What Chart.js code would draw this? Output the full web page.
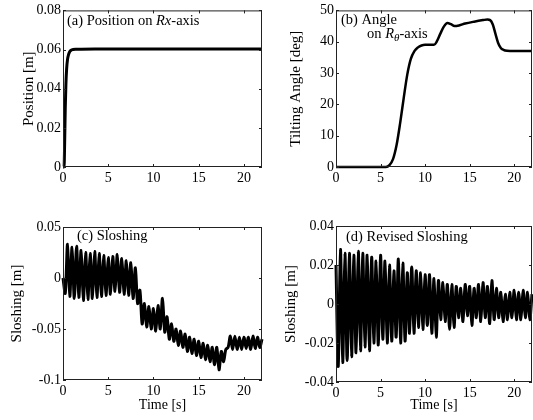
<!DOCTYPE html>
<html>
<head>
<meta charset="utf-8">
<script src="https://cdn.jsdelivr.net/npm/chart.js@4"></script>
<style>
  body { margin: 0; background: #fff; }
  .panel { position: absolute; }
</style>
</head>
<body>
<div class="panel" style="left:0;top:0"><canvas id="chartA" width="266" height="205"></canvas></div>
<div class="panel" style="left:266px;top:0"><canvas id="chartB" width="267" height="205"></canvas></div>
<div class="panel" style="left:0;top:205px"><canvas id="chartC" width="266" height="215"></canvas></div>
<div class="panel" style="left:266px;top:205px"><canvas id="chartD" width="267" height="215"></canvas></div>
<script>
// x ticks shared by all four panels
const timeTicks = [0, 5, 10, 15, 20];

// (a) position on Rx-axis
const timeA = [0, 0.12, 0.18, 0.25, 0.32, 0.4, 0.5, 0.62, 0.75, 0.9, 1.1, 1.4, 2, 5, 10, 15, 22];
const posA = [0, 0, 0.012, 0.03, 0.042, 0.05, 0.055, 0.0575, 0.059, 0.0597, 0.06, 0.0602, 0.0602, 0.0603, 0.0603, 0.0603, 0.0603];
const posTicks = [0, 0.02, 0.04, 0.06, 0.08];
const posLabels = ['0', '0.02', '0.04', '0.06', '0.08'];

// (b) tilting angle on R-theta axis
const timeB = [0, 5.6, 6.0, 6.4, 6.8, 7.2, 7.6, 8.0, 8.4, 8.8, 9.2, 9.6, 10.0, 10.5, 11.0, 11.3, 11.7, 12.1, 12.5, 12.9, 13.3, 13.8, 14.5, 15.5, 16.5, 17.0, 17.3, 17.6, 17.9, 18.2, 18.5, 18.8, 19.2, 20, 22];
const angleB = [0, 0, 0.6, 2.5, 7, 14, 22, 29.5, 34.5, 37, 38.2, 38.8, 39, 39, 39, 40, 42.5, 44.8, 46, 45.6, 45, 45.2, 45.8, 46.4, 46.9, 47.1, 46.9, 45.5, 42.5, 39.6, 38, 37.4, 37.1, 37, 37];
const angleTicks = [0, 10, 20, 30, 40, 50];
const angleLabels = ['0', '10', '20', '30', '40', '50'];

// (c) sloshing and (d) revised sloshing, peaks and troughs every 0.25 s
const timeS = [0, 0.25, 0.5, 0.75, 1, 1.25, 1.5, 1.75, 2, 2.25, 2.5, 2.75, 3, 3.25, 3.5, 3.75,
  4, 4.25, 4.5, 4.75, 5, 5.25, 5.5, 5.75, 6, 6.25, 6.5, 6.75, 7, 7.25, 7.5, 7.75,
  8, 8.25, 8.5, 8.75, 9, 9.25, 9.5, 9.75, 10, 10.25, 10.5, 10.75, 11, 11.25, 11.5, 11.75,
  12, 12.25, 12.5, 12.75, 13, 13.25, 13.5, 13.75, 14, 14.25, 14.5, 14.75, 15, 15.25, 15.5, 15.75,
  16, 16.25, 16.5, 16.75, 17, 17.25, 17.5, 17.75, 18, 18.25, 18.5, 18.75, 19, 19.25, 19.5, 19.75,
  20, 20.25, 20.5, 20.75, 21, 21.25, 21.5, 21.75, 22];
const sloshC = [0, -0.015, 0.033, -0.018, 0.030, -0.020, 0.031, -0.019, 0.027, -0.022, 0.025, -0.021, 0.024, -0.020, 0.026, -0.019,
  0.024, -0.018, 0.022, -0.017, 0.020, -0.016, 0.021, -0.013, 0.023, -0.014, 0.019, -0.016, 0.017, -0.017, 0.015, -0.020,
  0.010, -0.025, -0.012, -0.045, -0.025, -0.048, -0.028, -0.050, -0.030, -0.052, -0.027, -0.050, -0.020, -0.053, -0.038, -0.060,
  -0.045, -0.062, -0.050, -0.066, -0.052, -0.068, -0.055, -0.072, -0.058, -0.074, -0.060, -0.076, -0.062, -0.078, -0.064, -0.080,
  -0.066, -0.082, -0.068, -0.085, -0.068, -0.090, -0.072, -0.082, -0.070, -0.068, -0.057, -0.070, -0.057, -0.070, -0.058, -0.070,
  -0.058, -0.069, -0.058, -0.070, -0.057, -0.069, -0.058, -0.068, -0.060];
const sloshD = [0.020, -0.032, 0.028, -0.030, 0.026, -0.029, 0.026, -0.027, 0.025, -0.025, 0.027, -0.024, 0.026, -0.022, 0.025, -0.024,
  0.024, -0.020, 0.022, -0.021, 0.025, -0.018, 0.022, -0.020, 0.020, -0.019, 0.017, -0.017, 0.023, -0.020, 0.021, -0.019,
  0.016, -0.015, 0.019, -0.015, 0.017, -0.012, 0.016, -0.013, 0.015, -0.011, 0.015, -0.015, 0.013, -0.017, 0.012, -0.008,
  0.011, -0.009, 0.010, -0.013, 0.010, -0.012, 0.009, -0.007, 0.008, -0.009, 0.010, -0.006, 0.009, -0.011, 0.008, -0.007,
  0.010, -0.009, 0.011, -0.007, 0.009, -0.010, 0.012, -0.008, 0.008, -0.007, 0.006, -0.009, 0.005, -0.008, 0.006, -0.007,
  0.007, -0.008, 0.006, -0.008, 0.007, -0.007, 0.006, -0.008, 0.005];
const sloshCTicks = [-0.1, -0.05, 0, 0.05];
const sloshCLabels = ['-0.1', '-0.05', '0', '0.05'];
const sloshDTicks = [-0.04, -0.02, 0, 0.02, 0.04];
const sloshDLabels = ['-0.04', '-0.02', '0', '0.02', '0.04'];

const FONT = "'Liberation Serif', 'DejaVu Serif', serif";
Chart.defaults.font.family = FONT;
Chart.defaults.font.size = 14;
Chart.defaults.color = '#000';

function toXY(xs, ys) {
  return xs.map((x, i) => ({ x: x, y: ys[i] }));
}

// box round the plot, inward ticks on all four sides, and the label inside the plot
const framePlugin = {
  id: 'frame',
  afterDraw(chart, args, opts) {
    const ctx = chart.ctx;
    const a = chart.chartArea;
    const xs = chart.scales.x, ys = chart.scales.y;
    ctx.save();
    ctx.strokeStyle = '#222';
    ctx.lineWidth = 1;
    ctx.strokeRect(a.left + 0.5, a.top + 0.5, a.right - a.left - 1, a.bottom - a.top - 1);
    ctx.beginPath();
    xs.ticks.forEach(t => {
      const px = Math.round(xs.getPixelForValue(t.value)) + 0.5;
      ctx.moveTo(px, a.bottom); ctx.lineTo(px, a.bottom - 3);
      ctx.moveTo(px, a.top); ctx.lineTo(px, a.top + 3);
    });
    ys.ticks.forEach(t => {
      const py = Math.round(ys.getPixelForValue(t.value)) + 0.5;
      ctx.moveTo(a.left, py); ctx.lineTo(a.left + 3, py);
      ctx.moveTo(a.right, py); ctx.lineTo(a.right - 3, py);
    });
    ctx.stroke();
    ctx.fillStyle = '#000';
    ctx.textBaseline = 'alphabetic';
    (opts.lines || []).forEach(line => {
      let x = a.left + line.dx;
      const y = a.top + line.dy;
      line.parts.forEach(p => {
        const size = p.sub ? 11 : 14.5;
        ctx.font = (p.it ? 'italic ' : '') + size + 'px ' + FONT;
        ctx.fillText(p.t, x, y + (p.sub ? 3 : 0));
        x += ctx.measureText(p.t).width;
      });
    });
    ctx.restore();
  }
};

function makeChart(id, cfg) {
  const tickVals = cfg.yTicks;
  const tickLabels = cfg.yLabels;
  return new Chart(document.getElementById(id), {
    type: 'line',
    data: {
      datasets: [{
        data: toXY(cfg.xs, cfg.ys),
        borderColor: '#000',
        borderWidth: cfg.lw,
        pointRadius: 0,
        tension: cfg.tension,
        cubicInterpolationMode: cfg.mono ? 'monotone' : 'default',
        fill: false
      }]
    },
    options: {
      responsive: false,
      animation: false,
      clip: false,
      layout: { padding: { top: cfg.padTop, right: cfg.padRight, left: 0, bottom: 0 } },
      plugins: {
        legend: { display: false },
        tooltip: { enabled: false },
        frame: { lines: cfg.lines }
      },
      scales: {
        x: {
          type: 'linear',
          min: 0, max: 22,
          grid: { display: false, drawTicks: false },
          border: { display: false },
          afterBuildTicks: s => { s.ticks = timeTicks.map(v => ({ value: v })); },
          afterFit: s => { s.height = cfg.xH; },
          ticks: { padding: 3, maxRotation: 0, autoSkip: false },
          title: cfg.xTitle ? { display: true, text: cfg.xTitle, padding: { top: 0, bottom: cfg.xTitlePad } } : { display: false }
        },
        y: {
          type: 'linear',
          min: cfg.yMin, max: cfg.yMax,
          grid: { display: false, drawTicks: false },
          border: { display: false },
          afterBuildTicks: s => { s.ticks = tickVals.map(v => ({ value: v })); },
          afterFit: s => { s.width = cfg.yW; },
          ticks: { padding: 2, autoSkip: false, callback: (v, i) => tickLabels[i] },
          title: { display: true, text: cfg.yTitle, font: { size: 15 }, padding: { top: cfg.yTitlePad, bottom: 0 } }
        }
      }
    },
    plugins: [framePlugin]
  });
}

makeChart('chartA', {
  xs: timeA, ys: posA, lw: 3, tension: 0.4, mono: true,
  yMin: 0, yMax: 0.08, yTicks: posTicks, yLabels: posLabels,
  yTitle: 'Position [m]', yTitlePad: 20, yW: 63, xH: 38, padTop: 10, padRight: 4,
  lines: [{ dx: 4, dy: 15, parts: [{ t: '(a) Position on ' }, { t: 'R', it: true }, { t: 'x', it: true }, { t: '-axis' }] }]
});

makeChart('chartB', {
  xs: timeB, ys: angleB, lw: 2.5, tension: 0.4, mono: true,
  yMin: 0, yMax: 50, yTicks: angleTicks, yLabels: angleLabels,
  yTitle: 'Tilting Angle [deg]', yTitlePad: 21, yW: 70, xH: 38, padTop: 10, padRight: 1,
  lines: [
    { dx: 5, dy: 14, parts: [{ t: '(b) Angle' }] },
    { dx: 31, dy: 28, parts: [{ t: 'on ' }, { t: 'R', it: true }, { t: 'θ', it: true, sub: true }, { t: '-axis' }] }
  ]
});

makeChart('chartC', {
  xs: timeS, ys: sloshC, lw: 3, tension: 0.3, mono: false,
  yMin: -0.1, yMax: 0.05, yTicks: sloshCTicks, yLabels: sloshCLabels,
  yTitle: 'Sloshing [m]', yTitlePad: 8, yW: 63, xH: 40, padTop: 22, padRight: 4,
  xTitle: 'Time [s]', xTitlePad: 6,
  lines: [{ dx: 14, dy: 13, parts: [{ t: '(c) Sloshing' }] }]
});

makeChart('chartD', {
  xs: timeS, ys: sloshD, lw: 3, tension: 0.3, mono: false,
  yMin: -0.04, yMax: 0.04, yTicks: sloshDTicks, yLabels: sloshDLabels,
  yTitle: 'Sloshing [m]', yTitlePad: 16, yW: 70, xH: 38, padTop: 21, padRight: 1,
  xTitle: 'Time [s]', xTitlePad: 6,
  lines: [{ dx: 10, dy: 15, parts: [{ t: '(d) Revised Sloshing' }] }]
});
</script>
</body>
</html>
